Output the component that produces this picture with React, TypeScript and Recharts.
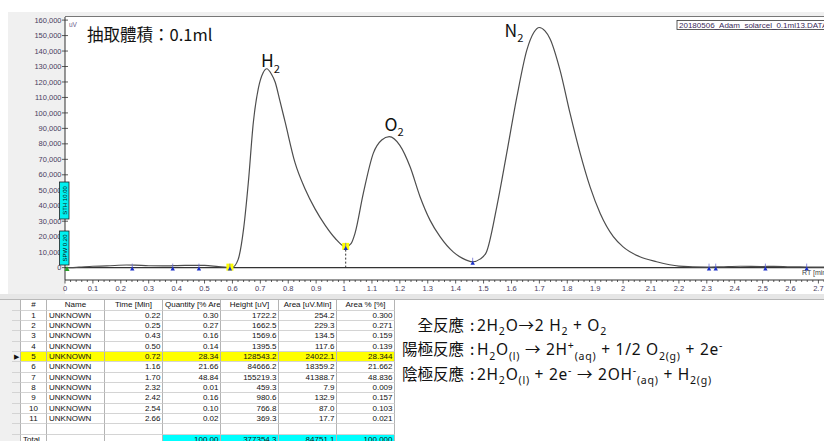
import React from 'react';
import { ComposedChart, Line, Scatter, XAxis, YAxis, ReferenceLine } from 'recharts';

// ---- Chromatogram data (retention time [min], signal [uV]) ----
const rtMin = [
  0.0, 0.02, 0.05, 0.1, 0.15, 0.22, 0.25, 0.3, 0.35, 0.43, 0.5, 0.55, 0.58, 0.6,
  0.62, 0.64, 0.657, 0.675, 0.693, 0.71, 0.723, 0.74, 0.753, 0.77, 0.789, 0.824,
  0.86, 0.896, 0.932, 0.968, 1.006, 1.025, 1.039, 1.069, 1.105, 1.135, 1.162, 1.2,
  1.237, 1.272, 1.308, 1.344, 1.392, 1.425, 1.461, 1.487, 1.51, 1.547, 1.583, 1.619,
  1.655, 1.68, 1.7, 1.72, 1.738, 1.774, 1.81, 1.846, 1.882, 1.918, 1.965, 2.0,
  2.06, 2.12, 2.2, 2.3, 2.35, 2.42, 2.5, 2.54, 2.6, 2.66, 2.72,
];
const signalUV = [
  0, 0, 300, 900, 1100, 1700, 1600, 1200, 1100, 1500, 1400, 600, 200, 300,
  5000, 25000, 55000, 94000, 116000, 126000, 128543, 125000, 120000, 108000, 94000, 68000,
  51000, 38000, 27500, 19000, 13400, 15500, 22000, 48000, 74000, 82500, 84666, 79000,
  65000, 46000, 30700, 20000, 10000, 6000, 3800, 5500, 10000, 39000, 74000, 110000,
  140600, 152000, 155219, 153000, 148000, 127700, 99700, 74000, 52000, 35000, 20000, 13400,
  7000, 3800, 1000, 300, 500, 900, 700, 800, 500, 400, 300,
];

// ---- Integration markers ----
const markerT = [0.241, 0.386, 0.48, 0.591, 1.006, 1.461, 2.308, 2.332, 2.51, 2.658];
const markerV = [0, 0, 0, 0, 13400, 3800, 0, 0, 0, 0];
const markerHl = [false, false, false, true, true, false, false, false, false, false];

// ---- Axis ticks ----
const yTicks = [0, 10000, 20000, 30000, 40000, 50000, 60000, 70000, 80000, 90000, 100000,
  110000, 120000, 130000, 140000, 150000, 160000];
const xMajorLabels = ['0', '0.1', '0.2', '0.3', '0.4', '0.5', '0.6', '0.7', '0.8', '0.9', '1',
  '1.1', '1.2', '1.3', '1.4', '1.5', '1.6', '1.7', '1.8', '1.9', '2', '2.1', '2.2', '2.3',
  '2.4', '2.5', '2.6', '2.7'];

// ---- Peak table ----
const tblHeaders = ['#', 'Name', 'Time [Min]', 'Quantity [% Area]', 'Height [uV]', 'Area [uV.Min]', 'Area % [%]'];
const pkNo = ['1', '2', '3', '4', '5', '6', '7', '8', '9', '10', '11'];
const pkName = ['UNKNOWN', 'UNKNOWN', 'UNKNOWN', 'UNKNOWN', 'UNKNOWN', 'UNKNOWN', 'UNKNOWN', 'UNKNOWN', 'UNKNOWN', 'UNKNOWN', 'UNKNOWN'];
const pkTime = ['0.22', '0.25', '0.43', '0.50', '0.72', '1.16', '1.70', '2.32', '2.42', '2.54', '2.66'];
const pkQty = ['0.30', '0.27', '0.16', '0.14', '28.34', '21.66', '48.84', '0.01', '0.16', '0.10', '0.02'];
const pkHeight = ['1722.2', '1662.5', '1569.6', '1395.5', '128543.2', '84666.2', '155219.3', '459.3', '980.6', '766.8', '369.3'];
const pkArea = ['254.2', '229.3', '134.5', '117.6', '24022.1', '18359.2', '41388.7', '7.9', '132.9', '87.0', '17.7'];
const pkAreaPct = ['0.300', '0.271', '0.159', '0.139', '28.344', '21.662', '48.836', '0.009', '0.157', '0.103', '0.021'];
const totals = ['100.00', '377354.3', '84751.1', '100.000'];
const selectedRow = 4;

const chromData = rtMin.map((t, i) => ({ t, v: signalUV[i] }));
const markerData = markerT.map((t, i) => ({ t, v: markerV[i], hl: markerHl[i] }));
const xTickValues: number[] = [];
for (let i = 0; i <= 136; i++) xTickValues.push(Math.round(i * 2) / 100);

const AXIS_COLOR = '#333';
const LABEL_COLOR = '#4a4060';

const XTick = (props: any) => {
  const { x, y, payload } = props;
  const v = payload.value as number;
  const tenth = Math.round(v * 10);
  const major = Math.abs(v * 10 - tenth) < 1e-6;
  return (
    <g>
      <line x1={x} x2={x} y1={y} y2={y + (major ? 3.5 : 2)} stroke={AXIS_COLOR} strokeWidth={0.8} />
      {major && tenth < xMajorLabels.length && (
        <text x={x} y={y + 11} textAnchor="middle" fontSize={7.5} fontFamily="Liberation Sans, Arial" fill={LABEL_COLOR}>
          {xMajorLabels[tenth]}
        </text>
      )}
    </g>
  );
};

const YTick = (props: any) => {
  const { x, y, payload } = props;
  return (
    <g>
      <line x1={x - 3} x2={x + 3} y1={y} y2={y} stroke={AXIS_COLOR} strokeWidth={0.8} />
      <text x={x - 3.5} y={y} dy="0.35em" textAnchor="end" fontSize={7.5} fontFamily="Liberation Sans, Arial" fill={LABEL_COLOR}>
        {Number(payload.value).toLocaleString('en-US')}
      </text>
    </g>
  );
};

const MarkerShape = (p: any) => {
  const { cx, cy, payload } = p;
  return (
    <g>
      {payload.hl && <rect x={cx - 3.5} y={cy - 4} width={7} height={7} fill="#ffff00" />}
      <line x1={cx} x2={cx} y1={cy - 4} y2={cy + 1} stroke="#7070d0" strokeWidth={0.8} />
      <path d={`M${cx},${cy - 1} L${cx + 2.2},${cy + 3} L${cx - 2.2},${cy + 3} Z`} fill="#1a2fc8" />
    </g>
  );
};

type Part = [string, 'n' | 'sub' | 'sup'];
const Rich = ({ x, y, parts, size, family, spacing, subScale }: { x: number; y: number; parts: Part[]; size: number; family?: string; spacing?: number; subScale?: number }) => {
  let cur = 0;
  const sc = subScale || 0.64;
  const spans = parts.map(([t, k], i) => {
    const target = k === 'sub' ? size * 0.32 : k === 'sup' ? -size * 0.38 : 0;
    const dy = target - cur;
    cur = target;
    return (
      <tspan key={i} dy={dy} fontSize={k === 'n' ? size : size * sc}>
        {t}
      </tspan>
    );
  });
  return (
    <text x={x} y={y} fontSize={size} fontFamily={family || 'Noto Sans CJK TC'} fill="#111" letterSpacing={spacing || 0} style={{ whiteSpace: 'pre' }} xmlSpace="preserve">
      {spans}
    </text>
  );
};

const eqLabels = ['全反應', '陽極反應', '陰極反應'];
const eqParts: Part[][] = [
  [['2H', 'n'], ['2', 'sub'], ['O→2 H', 'n'], ['2', 'sub'], [' + O', 'n'], ['2', 'sub']],
  [['H', 'n'], ['2', 'sub'], ['O', 'n'], ['(l)', 'sub'], [' → 2H', 'n'], ['+', 'sup'], ['(aq)', 'sub'], [' + 1/2 O', 'n'], ['2(g)', 'sub'], [' + 2e', 'n'], ['-', 'sup']],
  [['2H', 'n'], ['2', 'sub'], ['O', 'n'], ['(l)', 'sub'], [' + 2e', 'n'], ['-', 'sup'], [' → 2OH', 'n'], ['-', 'sup'], ['(aq)', 'sub'], [' + H', 'n'], ['2(g)', 'sub']],
];
const eqBaselines = [330.5, 355, 379.5];

const colW = [9, 26, 58, 58, 58, 58, 58, 58];
const TBL_LEFT = 12;
const TBL_TOP = 300;
const HDR_H = 10.8;
const ROW_H = 10.33;

function PeakTable() {
  const cells: React.ReactNode[] = [];
  const colLeft = (c: number) => TBL_LEFT + colW.slice(0, c).reduce((a, b) => a + b, 0);
  const cellStyle = (c: number, top: number, h: number, extra: React.CSSProperties = {}): React.CSSProperties => ({
    position: 'absolute',
    left: colLeft(c),
    top,
    width: colW[c],
    height: h,
    boxSizing: 'border-box',
    borderRight: '1px solid #b4b4b4',
    borderBottom: '1px solid #d4d4d4',
    fontFamily: 'Liberation Sans, Arial',
    fontSize: 8,
    lineHeight: `${h - 1}px`,
    whiteSpace: 'nowrap',
    overflow: 'hidden',
    color: '#111',
    background: c === 0 ? '#f0f0f0' : '#fff',
    ...extra,
  });
  for (let c = 0; c < colW.length; c++) {
    const txt = c === 0 ? '' : tblHeaders[c - 1];
    const left = c === 4;
    cells.push(
      <div key={`h${c}`} style={cellStyle(c, TBL_TOP, HDR_H, { textAlign: left ? 'left' : 'center', paddingLeft: left ? 2 : 0 })}>
        {txt}
      </div>
    );
  }
  const rowsCols = [pkNo, pkName, pkTime, pkQty, pkHeight, pkArea, pkAreaPct];
  for (let r = 0; r < pkNo.length + 2; r++) {
    const top = TBL_TOP + HDR_H + r * ROW_H;
    for (let c = 0; c < colW.length; c++) {
      let txt = '';
      let align: 'left' | 'right' | 'center' = 'right';
      let bg: string | undefined;
      if (r < pkNo.length) {
        if (c === 0) { txt = r === selectedRow ? '▶' : ''; align = 'center'; }
        else { txt = rowsCols[c - 1][r]; align = c === 1 ? 'center' : c === 2 ? 'left' : 'right'; }
        if (r === selectedRow && c > 0) bg = '#ffff00';
      } else if (r === pkNo.length + 1) {
        if (c === 1) { txt = 'Total'; align = 'left'; }
        if (c >= 4) { txt = totals[c - 4]; bg = '#00ffff'; }
      }
      const extra: React.CSSProperties = { textAlign: align, paddingLeft: align === 'left' ? 2 : 0, paddingRight: align === 'right' ? 1.5 : 0 };
      if (bg) extra.background = bg;
      if (c === 0 && r === selectedRow) { extra.fontSize = 7; }
      cells.push(
        <div key={`r${r}c${c}`} style={cellStyle(c, top, ROW_H, extra)}>
          {txt}
        </div>
      );
    }
  }
  return <>{cells}</>;
}

export default function App() {
  return (
    <div style={{ position: 'absolute', left: 0, top: 0, width: 824, height: 441, overflow: 'hidden', background: '#fff' }}>
      <div style={{ position: 'absolute', left: 8, top: 12, width: 816, height: 282, background: '#f0f0f0' }} />
      <div style={{ position: 'absolute', left: 65, top: 16, width: 759, height: 278, background: '#fff', borderTop: '1.5px solid #777', boxSizing: 'border-box' }} />
      <div style={{ position: 'absolute', left: 0, top: 294, width: 824, height: 6, background: '#e6e6e6', borderBottom: '1px solid #b8b8b8', boxSizing: 'border-box' }} />
      <div style={{ position: 'absolute', left: 0, top: 300, width: 12, height: 141, background: '#f0f0f0' }} />

      <div style={{ position: 'absolute', left: 0, top: 0 }}>
        <ComposedChart width={824} height={296} margin={{ top: 17, right: 0, left: 0, bottom: 0 }} data={chromData}>
          <XAxis
            type="number"
            dataKey="t"
            domain={[0, 2.72]}
            ticks={xTickValues}
            interval={0}
            tick={<XTick />}
            tickLine={false}
            tickSize={0}
            tickMargin={0}
            axisLine={{ stroke: AXIS_COLOR }}
            height={16}
            allowDataOverflow
          />
          <YAxis
            type="number"
            domain={[-8000, 162000]}
            ticks={yTicks}
            interval={0}
            tick={<YTick />}
            tickLine={false}
            tickSize={0}
            tickMargin={0}
            axisLine={{ stroke: AXIS_COLOR }}
            width={65}
            allowDataOverflow
          />
          <ReferenceLine y={0} stroke="#333" strokeWidth={1.2} />
          <ReferenceLine segment={[{ x: 1.006, y: 0 }, { x: 1.006, y: 13400 }]} stroke="#333" strokeDasharray="2 2" />
          <Line type="monotone" dataKey="v" stroke="#4d4d4d" strokeWidth={1.2} dot={false} isAnimationActive={false} />
          <Scatter data={markerData} dataKey="v" shape={<MarkerShape />} isAnimationActive={false} />
        </ComposedChart>
      </div>

      <svg width={824} height={441} style={{ position: 'absolute', left: 0, top: 0, pointerEvents: 'none' }}>
        <rect x={59.5} y={182} width={9.5} height={37} fill="#00f0f0" stroke="#222" strokeWidth={0.8} />
        <text x={0} y={0} fontSize={6} fontFamily="Liberation Sans, Arial" fill="#111" textAnchor="middle" transform="translate(66.5,200.5) rotate(-90)">STH 10.00</text>
        <rect x={59.5} y={231} width={9.5} height={34} fill="#00f0f0" stroke="#222" strokeWidth={0.8} />
        <text x={0} y={0} fontSize={6} fontFamily="Liberation Sans, Arial" fill="#111" textAnchor="middle" transform="translate(66.5,248) rotate(-90)">SPW 0.20</text>
        <path d="M67,266 L69.5,271 L64.5,271 Z" fill="#2aa02a" />

        <text x={69} y={27} fontSize={6.5} fontFamily="Liberation Sans, Arial" fill="#6a5a8a">uV</text>
        <rect x={677} y={20.5} width={150} height={9} fill="#fff" stroke="#333" strokeWidth={0.8} />
        <text x={679} y={28} fontSize={8} fontFamily="Liberation Sans, Arial" fill="#3a2a5a">20180506_Adam_solarcel_0.1ml13.DATA</text>
        <text x={802} y={274.5} fontSize={7} fontFamily="Liberation Sans, Arial" fill="#444">RT [min]</text>

        <text x={87} y={40.5} fontSize={16.5} fontFamily="Noto Sans CJK TC" fill="#111">抽取體積：0.1ml</text>
        <Rich x={261} y={67} size={17.5} parts={[['H', 'n'], ['2', 'sub']]} />
        <Rich x={384.5} y={130.5} size={17.5} parts={[['O', 'n'], ['2', 'sub']]} />
        <Rich x={504.5} y={36.5} size={17.5} parts={[['N', 'n'], ['2', 'sub']]} />

        {eqLabels.map((lab, i) => (
          <g key={lab}>
            <text x={464} y={eqBaselines[i]} fontSize={15.5} fontFamily="Noto Sans CJK TC" fill="#111" textAnchor="end">{lab}</text>
            <text x={470} y={eqBaselines[i]} fontSize={15.5} fontFamily="Noto Sans CJK TC" fill="#111">:</text>
            <Rich x={477} y={eqBaselines[i]} size={15.5} parts={eqParts[i]} family="Noto Sans, Noto Sans CJK TC" spacing={0.75} subScale={0.68} />
          </g>
        ))}
      </svg>

      <PeakTable />
    </div>
  );
}
